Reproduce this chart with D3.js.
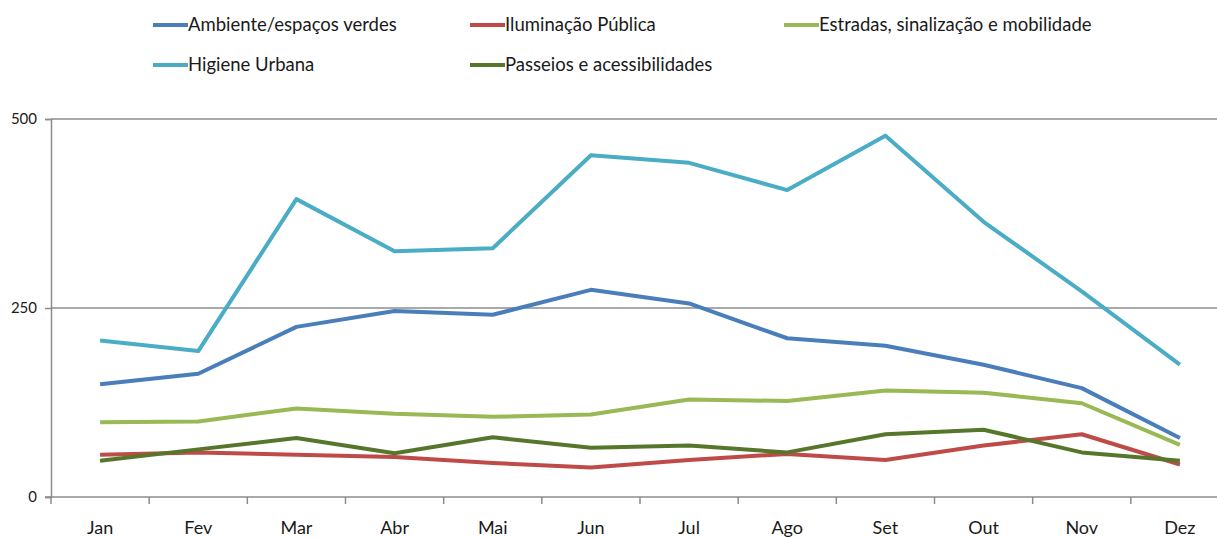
<!DOCTYPE html>
<html>
<head>
<meta charset="utf-8">
<script src="https://cdn.jsdelivr.net/npm/d3@7"></script>
<style>
  body { margin: 0; background: #fff; }
  svg text { font-family: Lato, "Open Sans", sans-serif; fill: #1a1a1a; }
</style>
</head>
<body>
<div class="chart"></div>
<script>
var months = ["Jan", "Fev", "Mar", "Abr", "Mai", "Jun", "Jul", "Ago", "Set", "Out", "Nov", "Dez"];
var yTicks = [0, 250, 500];

var seriesNames = ["Ambiente/espaços verdes", "Iluminação Pública", "Estradas, sinalização e mobilidade",
                   "Higiene Urbana", "Passeios e acessibilidades"];
var seriesColors = ["#4a7ebb", "#be4b48", "#98b954", "#4bacc6", "#56772b"];

var ambiente   = [149, 163, 225, 246, 241, 274, 256, 210, 200, 175, 144, 78];
var iluminacao = [56, 59, 56, 53, 45, 39, 49, 57, 49, 68, 83, 43];
var estradas   = [99, 100, 117, 110, 106, 109, 129, 127, 141, 138, 124, 69];
var higiene    = [207, 193, 394, 325, 329, 452, 442, 406, 478, 364, 272, 175];
var passeios   = [48, 63, 78, 58, 79, 65, 68, 59, 83, 89, 59, 48];

var allSeries = [ambiente, iluminacao, estradas, higiene, passeios];
// draw order: put the big cyan line under the rest like the original
var drawOrder = [3, 0, 2, 1, 4];

var W = 1217, H = 538;
var svg = d3.select(".chart").append("svg")
    .attr("width", W)
    .attr("height", H);

var x = d3.scaleBand()
    .domain(months)
    .range([51, 1229]);

var y = d3.scaleLinear()
    .domain([0, 500])
    .range([497, 119]);

// grid lines
svg.append("g")
    .selectAll("line")
    .data(yTicks.filter(function(d) { return d > 0; }))
    .enter().append("line")
    .attr("x1", 51).attr("x2", W)
    .attr("y1", function(d) { return y(d); })
    .attr("y2", function(d) { return y(d); })
    .attr("stroke", "#8c8c8c")
    .attr("stroke-width", 1.5);

// y axis
var yAxis = svg.append("g")
    .attr("transform", "translate(51,0)")
    .call(d3.axisLeft(y).tickValues(yTicks).tickSize(6).tickPadding(8));
yAxis.select(".domain").attr("stroke", "#8c8c8c").attr("stroke-width", 1.5);
yAxis.selectAll(".tick line").attr("stroke", "#8c8c8c").attr("stroke-width", 1.5);
yAxis.selectAll("text").style("font-size", "15px").attr("fill", "#1a1a1a");

// x axis: ticks between categories
var xg = svg.append("g")
    .attr("transform", "translate(0,497)");
xg.append("line")
    .attr("x1", 45).attr("x2", W)
    .attr("stroke", "#8c8c8c").attr("stroke-width", 1.5);
xg.selectAll(".tk")
    .data(months)
    .enter().append("line")
    .attr("class", "tk")
    .attr("x1", function(d) { return x(d); })
    .attr("x2", function(d) { return x(d); })
    .attr("y1", 0).attr("y2", 7)
    .attr("stroke", "#8c8c8c").attr("stroke-width", 1.5);
xg.selectAll("text")
    .data(months)
    .enter().append("text")
    .attr("x", function(d) { return x(d) + x.bandwidth() / 2; })
    .attr("y", 37)
    .attr("text-anchor", "middle")
    .style("font-size", "18px")
    .text(function(d) { return d; });

// lines
var line = d3.line()
    .x(function(d, i) { return x(months[i]) + x.bandwidth() / 2; })
    .y(function(d) { return y(d); });

svg.append("g")
    .selectAll("path")
    .data(drawOrder)
    .enter().append("path")
    .attr("d", function(k) { return line(allSeries[k]); })
    .attr("fill", "none")
    .attr("stroke", function(k) { return seriesColors[k]; })
    .attr("stroke-width", 4)
    .attr("stroke-linejoin", "round");

// legend
var legendPos = [[153, 25], [470, 25], [784, 25], [153, 65], [470, 65]];
var legend = svg.append("g")
    .selectAll("g")
    .data(seriesNames)
    .enter().append("g")
    .attr("transform", function(d, i) { return "translate(" + legendPos[i][0] + "," + legendPos[i][1] + ")"; });
legend.append("line")
    .attr("x1", 0).attr("x2", 35)
    .attr("stroke", function(d, i) { return seriesColors[i]; })
    .attr("stroke-width", 4);
legend.append("text")
    .attr("x", 35)
    .attr("dy", "0.35em")
    .style("font-size", "18.5px")
    .text(function(d) { return d; });
</script>
</body>
</html>
